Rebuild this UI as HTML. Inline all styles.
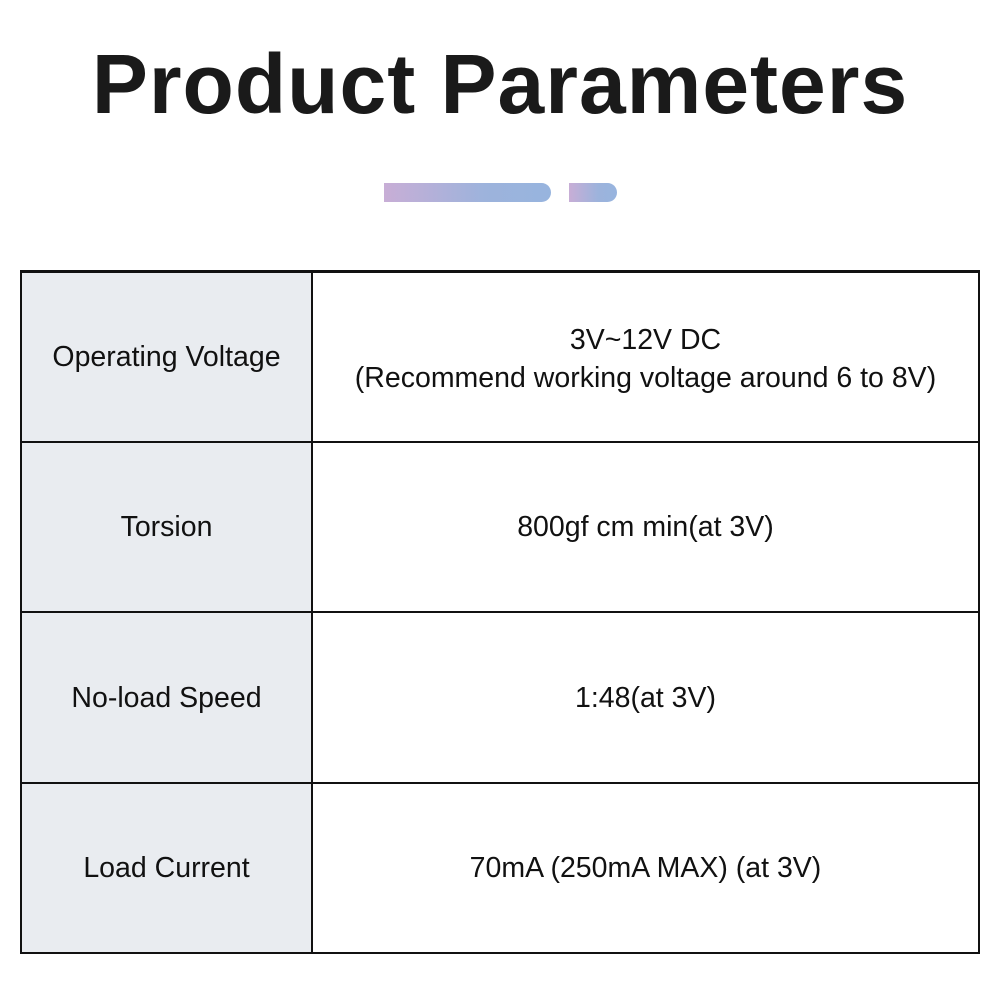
<!DOCTYPE html>
<html><head><meta charset="utf-8"><style>
body{margin:0;width:1000px;height:1000px;background:#fff;position:relative;overflow:hidden;font-family:"Liberation Sans",Arial,sans-serif}
.t{position:absolute;left:0;width:1000px;top:36px;text-align:center;font-size:84px;font-weight:bold;color:#1a1a1a;letter-spacing:1px}
.bar{position:absolute;top:183px;height:19px;border-radius:0 10px 10px 0;background:linear-gradient(90deg,#c8aed6,#9db3dc 60%,#97b4de)}
.l{position:absolute;background:#111}
.c{position:absolute;display:flex;align-items:center;justify-content:center;text-align:center;font-size:28.5px;color:#111;line-height:38px}
.g{background:#e9ecf0}
</style></head><body>
<div class="t">Product Parameters</div>
<div class="bar" style="left:384px;width:167px"></div>
<div class="bar" style="left:569px;width:48px"></div>
<div class="c g" style="left:21px;top:272px;width:291px;height:682px"></div>
<div class="l" style="left:20px;top:270px;width:960px;height:3px"></div>
<div class="l" style="left:20px;top:952px;width:960px;height:2px"></div>
<div class="l" style="left:20px;top:270px;width:2px;height:684px"></div>
<div class="l" style="left:978px;top:270px;width:2px;height:684px"></div>
<div class="l" style="left:311px;top:270px;width:2px;height:684px"></div>
<div class="l" style="left:20px;top:441px;width:960px;height:2px"></div>
<div class="l" style="left:20px;top:611px;width:960px;height:2px"></div>
<div class="l" style="left:20px;top:782px;width:960px;height:2px"></div>
<div class="c" style="left:22px;top:273px;width:289px;height:168px">Operating Voltage</div>
<div class="c" style="left:313px;top:275px;width:665px;height:168px">3V~12V DC<br>(Recommend working voltage around 6 to 8V)</div>
<div class="c" style="left:22px;top:443px;width:289px;height:168px">Torsion</div>
<div class="c" style="left:313px;top:443px;width:665px;height:168px">800gf cm min(at 3V)</div>
<div class="c" style="left:22px;top:613px;width:289px;height:169px">No-load Speed</div>
<div class="c" style="left:313px;top:613px;width:665px;height:169px">1:48(at 3V)</div>
<div class="c" style="left:22px;top:784px;width:289px;height:168px">Load Current</div>
<div class="c" style="left:313px;top:784px;width:665px;height:168px">70mA (250mA MAX) (at 3V)</div>
</body></html>
